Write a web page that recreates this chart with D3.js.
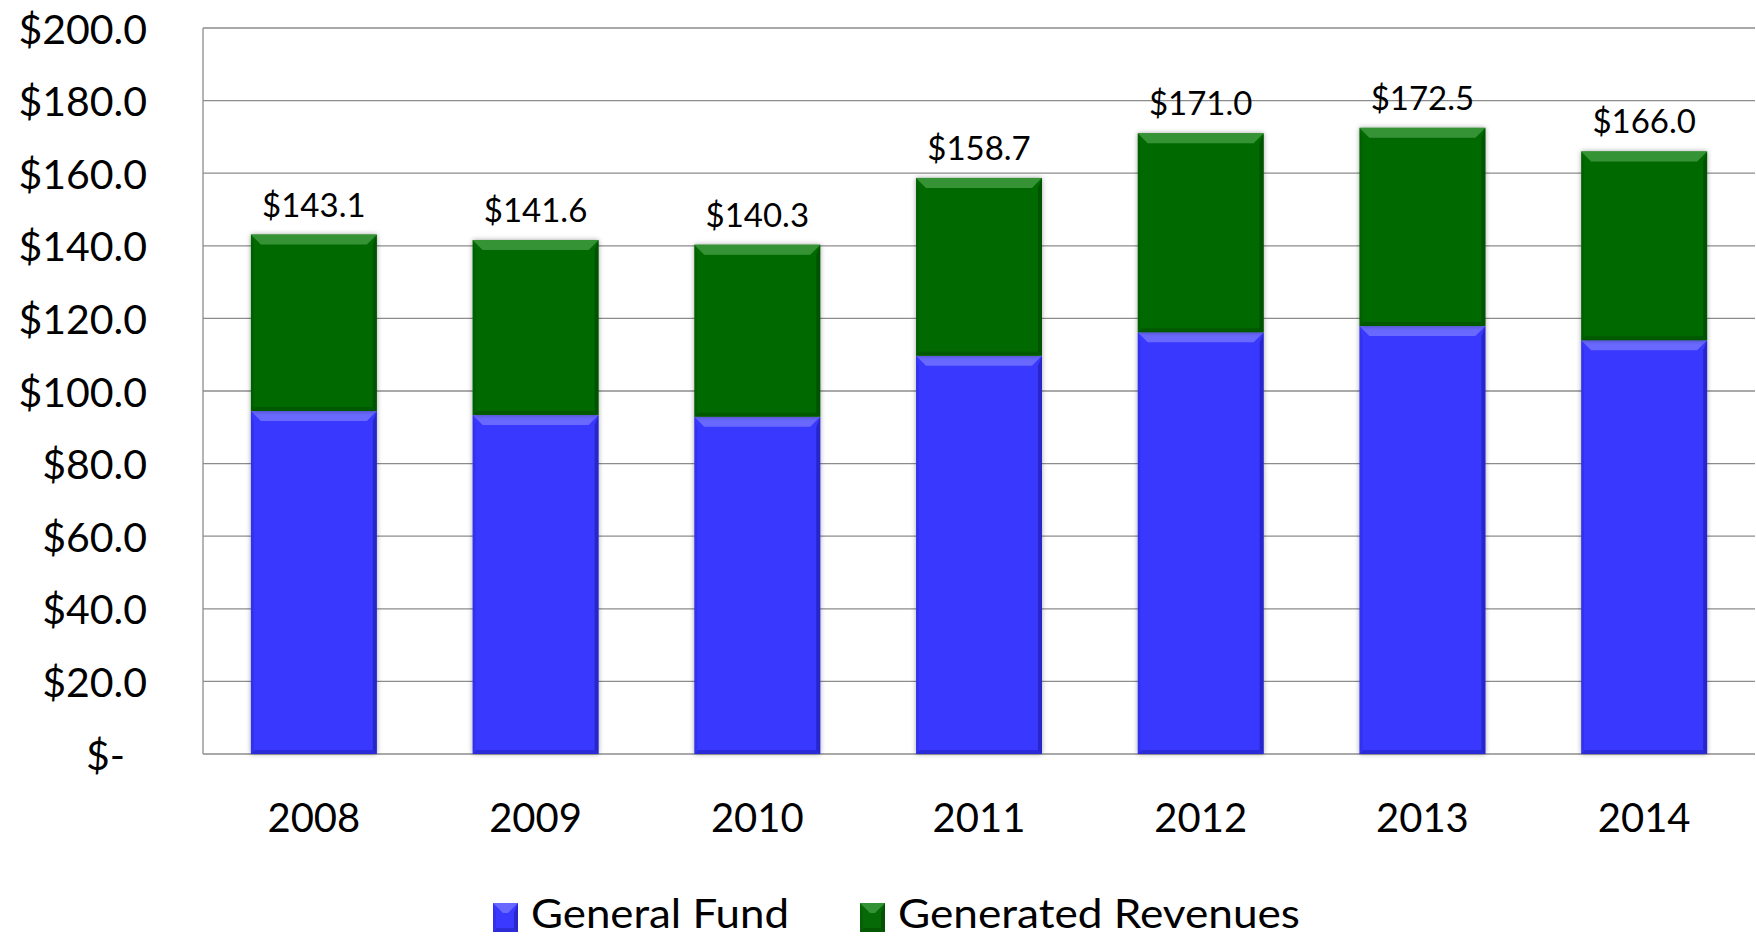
<!DOCTYPE html>
<html>
<head>
<meta charset="utf-8">
<script src="https://cdn.jsdelivr.net/npm/d3@7"></script>
<style>
  html, body { margin: 0; padding: 0; background: #ffffff; }
  svg { display: block; font-family: Lato, "Open Sans", sans-serif; }
</style>
</head>
<body>
<svg id="chart" width="1756" height="937"></svg>
<script>
// ---- Data ----
const years = ["2008", "2009", "2010", "2011", "2012", "2013", "2014"];
const generalFund = [94.5, 93.4, 92.9, 109.7, 116.2, 117.9, 114.0];
const generatedRevenues = [48.6, 48.2, 47.4, 49.0, 54.8, 54.6, 52.0];
const totalLabels = ["$143.1", "$141.6", "$140.3", "$158.7", "$171.0", "$172.5", "$166.0"];
const seriesNames = ["General Fund", "Generated Revenues"];
const yTicks = [0, 20, 40, 60, 80, 100, 120, 140, 160, 180, 200];

(function () {
// ---- Layout ----
const plotL = 203, plotR = 1755, plotT = 28, plotB = 754;
const colors = { "General Fund": "#3939ff", "Generated Revenues": "#066a06" };
const light = { "General Fund": "#7272ff", "Generated Revenues": "#3d9a3d" };
const dark = { "General Fund": "#1c1ca8", "Generated Revenues": "#034203" };

const svg = d3.select("#chart");
const defs = svg.append("defs");
const f = defs.append("filter").attr("id", "shadow").attr("x", "-10%").attr("y", "-10%").attr("width", "120%").attr("height", "120%");
f.append("feDropShadow").attr("dx", 0).attr("dy", 0).attr("stdDeviation", 2.5).attr("flood-color", "#000").attr("flood-opacity", 0.35);

const x = d3.scaleBand().domain(years).range([plotL, plotR]).paddingInner(0.432).paddingOuter(0.216);
const y = d3.scaleLinear().domain([0, 200]).range([plotB, plotT]);

// Gridlines
svg.append("g").selectAll("line").data(yTicks).join("line")
  .attr("x1", plotL).attr("x2", plotR)
  .attr("y1", d => y(d)).attr("y2", d => y(d))
  .attr("stroke", "#8c8c8c").attr("stroke-width", 1.3);

// Left axis line
svg.append("line").attr("x1", plotL).attr("x2", plotL).attr("y1", y(200)).attr("y2", y(0))
  .attr("stroke", "#8c8c8c").attr("stroke-width", 1.3);

// Y tick labels
svg.append("g").selectAll("text").data(yTicks).join("text")
  .attr("x", 147).attr("y", d => y(d))
  .attr("dx", d => d === 0 ? -22 : 0)
  .attr("text-anchor", "end").attr("dominant-baseline", "central")
  .attr("font-size", 41).attr("fill", "#000")
  .text(d => d === 0 ? "$-" : "$" + d.toFixed(1));

// Stack
const rows = years.map((yr, i) => ({ year: yr, "General Fund": generalFund[i], "Generated Revenues": generatedRevenues[i] }));
const stacked = d3.stack().keys(seriesNames)(rows);

function bevelBox(g, bx, by, bw, bh, key) {
  const b = Math.min(10, bh / 2);
  g.append("rect").attr("x", bx).attr("y", by).attr("width", bw).attr("height", bh).attr("fill", colors[key]);
  g.append("polygon")
    .attr("points", [[bx, by], [bx + bw, by], [bx + bw - b, by + b], [bx + b, by + b]].map(p => p.join(",")).join(" "))
    .attr("fill", light[key]).attr("opacity", 0.85);
  g.append("polygon")
    .attr("points", [[bx + bw, by], [bx + bw, by + bh], [bx + bw - 4, by + bh - 4], [bx + bw - 4, by + b]].map(p => p.join(",")).join(" "))
    .attr("fill", dark[key]).attr("opacity", 0.6);
  g.append("polygon")
    .attr("points", [[bx, by + bh], [bx + bw, by + bh], [bx + bw - 4, by + bh - 4], [bx + 4, by + bh - 4]].map(p => p.join(",")).join(" "))
    .attr("fill", dark[key]).attr("opacity", 0.45);
  g.append("polygon")
    .attr("points", [[bx, by], [bx, by + bh], [bx + 3, by + bh - 3], [bx + 3, by + b]].map(p => p.join(",")).join(" "))
    .attr("fill", dark[key]).attr("opacity", 0.2);
}

const barsG = svg.append("g");
stacked.forEach(s => {
  s.forEach(d => {
    const g = barsG.append("g").attr("filter", "url(#shadow)");
    const bx = x(d.data.year), bw = x.bandwidth();
    const by = y(d[1]), bh = y(d[0]) - y(d[1]);
    bevelBox(g, bx, by, bw, bh, s.key);
  });
});

// Total labels
const totals = years.map((yr, i) => generalFund[i] + generatedRevenues[i]);
svg.append("g").selectAll("text").data(years).join("text")
  .attr("x", d => x(d) + x.bandwidth() / 2)
  .attr("y", (d, i) => y(totals[i]) - 18)
  .attr("text-anchor", "middle").attr("font-size", 33).attr("fill", "#000")
  .text((d, i) => totalLabels[i]);

// X labels
svg.append("g").selectAll("text").data(years).join("text")
  .attr("x", d => x(d) + x.bandwidth() / 2)
  .attr("y", 832)
  .attr("text-anchor", "middle").attr("font-size", 40).attr("fill", "#000")
  .text(d => d);

// Legend
const legendItems = [
  { name: "General Fund", mx: 493, tx: 531, len: 258 },
  { name: "Generated Revenues", mx: 860, tx: 898, len: 402 }
];
legendItems.forEach(it => {
  const g = svg.append("g");
  bevelBox(g, it.mx, 903, 25, 29, it.name);
  svg.append("text").attr("x", it.tx).attr("y", 928)
    .attr("font-size", 40).attr("fill", "#000")
    .attr("textLength", it.len).attr("lengthAdjust", "spacingAndGlyphs")
    .text(it.name);
});
})();
</script>
</body>
</html>
